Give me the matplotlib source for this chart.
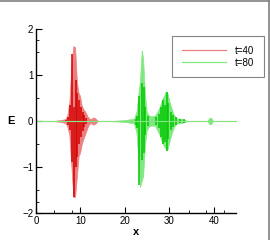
import matplotlib
matplotlib.use("Agg")
import matplotlib.pyplot as plt
from matplotlib.lines import Line2D

# wave packet at t=40 (red): light envelope + dark spikes
red_env_x = [0, 4.0, 5.5, 6.5, 7.0, 7.5, 8.0, 8.4, 8.8, 9.2, 9.6, 9.9, 10.3, 10.7, 11.1, 11.6, 12.0, 12.5, 12.9, 13.3, 13.6, 14.0, 45]
red_env_hi = [0, 0.0, 0.02, 0.04, 0.1, 0.4, 1.26, 1.63, 1.6, 0.85, 0.6, 0.55, 0.33, 0.25, 0.2, 0.1, 0.05, 0.05, 0.08, 0.06, 0.03, 0.0, 0]
red_env_lo = [0, 0.0, -0.02, -0.04, -0.1, -0.3, -1.05, -1.65, -1.65, -1.2, -0.75, -0.7, -0.5, -0.38, -0.28, -0.14, -0.06, -0.05, -0.08, -0.06, -0.03, 0.0, 0]
red_sp_x = [6.8, 7.3, 7.7, 8.2, 8.6, 9.0, 9.3, 9.7, 10.1, 10.5, 10.9, 11.3]
red_sp_hi = [0.03, 0.08, 0.35, 1.45, 0.3, 0.9, 0.6, 0.45, 0.3, 0.2, 0.12, 0.06]
red_sp_lo = [-0.03, -0.08, -0.2, -0.9, -1.66, -1.0, -0.78, -0.5, -0.35, -0.22, -0.12, -0.06]

# wave packet at t=80 (green)
grn_env_x = [0, 17.0, 20.0, 22.0, 22.6, 23.0, 23.4, 23.8, 24.1, 24.5, 24.9, 25.4, 26.0, 26.8, 27.3, 27.8, 28.3, 28.8, 29.2, 29.6, 30.1, 30.6, 31.1, 31.6, 32.2, 33.0, 33.6, 34.0, 38.6, 39.0, 39.4, 39.8, 45]
grn_env_hi = [0, 0.0, 0.02, 0.05, 0.2, 0.55, 0.9, 1.54, 1.35, 0.6, 0.2, 0.12, 0.1, 0.12, 0.2, 0.3, 0.45, 0.55, 0.64, 0.6, 0.4, 0.25, 0.12, 0.06, 0.05, 0.04, 0.02, 0.0, 0.0, 0.07, 0.07, 0.0, 0]
grn_env_lo = [0, 0.0, -0.02, -0.05, -0.25, -0.8, -1.43, -1.3, -1.2, -0.55, -0.2, -0.12, -0.1, -0.1, -0.2, -0.3, -0.45, -0.55, -0.6, -0.62, -0.42, -0.25, -0.12, -0.06, -0.05, -0.04, -0.02, 0.0, 0.0, -0.07, -0.07, 0.0, 0]
grn_sp_x = [22.4, 22.8, 23.2, 23.8, 24.2, 24.6, 25.2, 27.0, 27.6, 28.2, 28.6, 29.0, 29.4, 29.8, 30.3, 30.8, 31.4, 32.5, 33.2]
grn_sp_hi = [0.05, 0.1, 0.55, 0.82, 0.73, 0.3, 0.1, 0.08, 0.15, 0.3, 0.45, 0.35, 0.63, 0.4, 0.2, 0.12, 0.08, 0.05, 0.04]
grn_sp_lo = [-0.08, -0.15, -1.39, -0.85, -0.7, -0.3, -0.1, -0.08, -0.15, -0.35, -0.5, -0.45, -0.65, -0.4, -0.2, -0.12, -0.08, -0.05, -0.04]

labels = ["t=40", "t=80"]

light_red, dark_red = "#ec8080", "#d40000"
light_grn, dark_grn = "#80e880", "#00c800"

fig = plt.figure(figsize=(2.7, 2.4), dpi=100)
plt.rcParams['font.family'] = ['Liberation Sans', 'DejaVu Sans']
ax = fig.add_axes([36/270, 1 - 213/240, 200/270, 184/240])

ax.fill_between(red_env_x, red_env_lo, red_env_hi, color=light_red, lw=0.5)
ax.vlines(red_sp_x, red_sp_lo, red_sp_hi, color=dark_red, lw=1.1)
ax.plot([0, 45], [0, 0], color=light_red, lw=0.8)
ax.fill_between(grn_env_x, grn_env_lo, grn_env_hi, color=light_grn, lw=0.5)
ax.vlines(grn_sp_x, grn_sp_lo, grn_sp_hi, color=dark_grn, lw=1.1)
ax.plot([0, 45], [0, 0], color=light_grn, lw=0.8)

ax.set_xlim(0, 45)
ax.set_ylim(-2, 2)
ax.set_xticks([0, 10, 20, 30, 40])
ax.set_xticks([4, 8, 34.4, 38.3, 42.2], minor=True)
ax.set_yticks([-2, -1, 0, 1, 2])
ax.set_yticks([-1.5, -0.5, 0.5, 1.5, 1.75, -1.75], minor=True)
ax.tick_params(direction='in', length=4, width=0.8, labelsize=7, pad=2)
ax.tick_params(which='minor', direction='in', length=2, width=0.6)
for s in ['top', 'right']:
    ax.spines[s].set_visible(False)
for s in ['left', 'bottom']:
    ax.spines[s].set_linewidth(1.0)

ax.set_xlabel("x", fontsize=8, fontweight='bold', labelpad=1)
ax.set_ylabel("E", fontsize=8, fontweight='bold', rotation=0, labelpad=8, va='center')

handles = [Line2D([], [], color=light_red, lw=0.9), Line2D([], [], color=light_grn, lw=0.9)]
leg = fig.legend(handles, labels, loc='upper left', bbox_to_anchor=(172/270, 1 - 36/240),
                 fontsize=7, frameon=True, fancybox=False, handlelength=4.6,
                 borderaxespad=0, borderpad=1.0, labelspacing=0.2, handletextpad=0.9)
leg.get_frame().set_edgecolor('#666666')
leg.get_frame().set_linewidth(0.8)

fig.add_artist(Line2D([0, 1], [0.996, 0.996], color='#808080', lw=1.2, transform=fig.transFigure))
fig.add_artist(Line2D([0.997, 0.997], [0, 1], color='#808080', lw=1.2, transform=fig.transFigure))

fig.savefig("out.png", dpi=100)
